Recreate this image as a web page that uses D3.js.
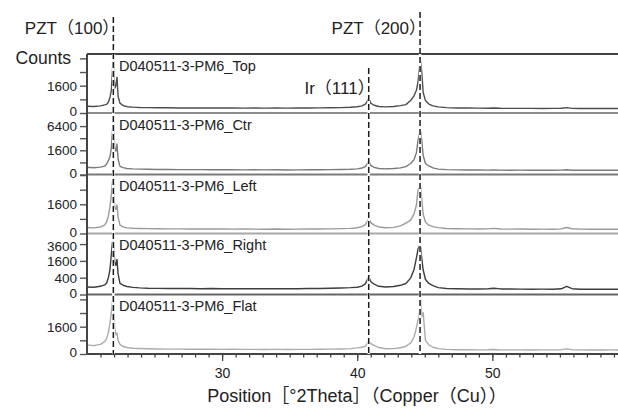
<!DOCTYPE html>
<html>
<head>
<meta charset="utf-8">
<script src="https://cdn.jsdelivr.net/npm/d3@7"></script>
<style>
	body { margin: 0; background: #fff; }
	svg { display: block; font-family: "Liberation Sans", Arial, "Noto Sans CJK JP", sans-serif; }
</style>
</head>
<body>
<svg id="chart" width="618" height="411"></svg>
<script>
// 2theta positions shared by all five scans
var positions = [
	20, 20.5, 21.0, 21.3, 21.45, 21.58, 21.7, 21.8, 21.88, 21.95,
	22.05, 22.14, 22.22, 22.3, 22.44, 22.67, 22.96, 23.4, 23.9, 24.5,
	25.2, 26, 26.8, 27.6, 28.4, 29.2, 30, 30.8, 31.6, 32.4,
	33.2, 34, 34.8, 35.6, 36.4, 37.2, 38, 38.8, 39.5, 40.0,
	40.35, 40.6, 40.72, 40.85, 41.0, 41.25, 41.6, 42.1, 42.7, 43.2,
	43.6, 43.95, 44.2, 44.38, 44.5, 44.6, 44.7, 44.78, 44.88, 45.05,
	45.3, 45.6, 46.0, 46.6, 47.4, 48.2, 49.0, 49.7, 50.1, 50.6,
	51.3, 52.1, 52.9, 53.7, 54.5, 55.1, 55.5, 55.9, 56.5, 57.3,
	58.1, 58.8, 59.3
];

var topCounts = [
	97, 90, 110, 140, 160, 250, 520, 1100, 3500, 7400,
	1300, 1600, 2760, 600, 210, 120, 85, 74, 66, 62,
	60, 58, 55, 57, 53, 55, 52, 54, 50, 53,
	51, 55, 50, 52, 54, 56, 58, 62, 70, 85,
	110, 170, 280, 450, 210, 128, 90, 80, 90, 115,
	150, 330, 620, 1100, 2100, 4200, 5600, 3400, 900, 330,
	170, 110, 80, 62, 55, 52, 50, 48, 54, 47,
	46, 45, 46, 44, 45, 48, 62, 46, 43, 44,
	42, 43, 42
];

var ctrCounts = [
	141, 125, 150, 190, 300, 520, 857, 1900, 4800, 8600,
	1800, 1500, 2540, 650, 182, 130, 100, 86, 78, 74,
	70, 68, 66, 64, 66, 62, 60, 62, 58, 60,
	58, 60, 57, 59, 61, 60, 64, 68, 76, 88,
	115, 170, 290, 467, 230, 140, 100, 88, 96, 120,
	170, 330, 600, 1300, 3200, 4400, 4960, 3000, 1000, 330,
	200, 120, 80, 64, 58, 56, 54, 52, 56, 52,
	50, 52, 49, 51, 50, 52, 62, 50, 48, 50,
	48, 50, 49
];

var leftCounts = [
	68, 60, 80, 130, 250, 560, 1346, 2800, 4800, 5820,
	1300, 1100, 1520, 500, 131, 80, 60, 52, 48, 44,
	42, 40, 40, 38, 39, 37, 38, 36, 37, 36,
	35, 37, 35, 36, 38, 37, 40, 44, 50, 62,
	90, 150, 260, 428, 220, 131, 80, 62, 70, 110,
	200, 336, 700, 1500, 3570, 3900, 4080, 2000, 700, 250,
	131, 90, 64, 48, 42, 40, 38, 40, 50, 38,
	36, 37, 35, 36, 35, 40, 68, 42, 36, 35,
	34, 36, 35
];

var rightCounts = [
	80, 75, 95, 130, 180, 400, 867, 2290, 3800, 4390,
	1500, 1200, 1740, 600, 172, 122, 90, 72, 62, 56,
	54, 52, 50, 51, 48, 50, 47, 49, 46, 48,
	47, 49, 46, 48, 50, 52, 55, 60, 66, 75,
	100, 160, 280, 450, 240, 150, 95, 80, 90, 120,
	172, 380, 867, 1900, 2900, 3370, 3100, 1800, 867, 320,
	172, 110, 67, 52, 46, 44, 42, 46, 56, 44,
	42, 41, 40, 41, 40, 46, 96, 48, 40, 39,
	38, 39, 38
];

var flatCounts = [
	180, 150, 200, 330, 509, 1000, 2035, 3600, 5800, 7170,
	1400, 800, 930, 400, 200, 120, 90, 72, 64, 58,
	55, 52, 50, 48, 50, 47, 46, 48, 45, 46,
	44, 46, 44, 45, 46, 47, 50, 54, 62, 80,
	98, 130, 220, 359, 230, 156, 90, 60, 62, 85,
	130, 250, 600, 1500, 2500, 3500, 6400, 3000, 3670, 400,
	180, 98, 62, 45, 40, 38, 37, 38, 42, 37,
	36, 37, 35, 36, 36, 40, 56, 40, 36, 35,
	35, 36, 35
];

var sampleNames = ['D040511-3-PM6_Top', 'D040511-3-PM6_Ctr', 'D040511-3-PM6_Left', 'D040511-3-PM6_Right', 'D040511-3-PM6_Flat'];
var seriesCounts = [topCounts, ctrCounts, leftCounts, rightCounts, flatCounts];
var panelMax = [7460, 10330, 6530, 5270, 7590];
var countTicks = [0, 400, 1600, 3600, 6400];
var labelledTicks = [[0, 1600, 6400], [0, 1600, 6400], [0, 1600], [0, 400, 1600, 3600], [0, 1600]];
var xDomain = [20, 59.3];
var xMajorTicks = [30, 40, 50];
var peakNames = ['PZT（100）', 'Ir（111）', 'PZT（200）'];
var peakPositions = [21.95, 40.85, 44.65];

var lineColors = ['#4d4d4d', '#7a7a7a', '#9a9a9a', '#3d3d3d', '#ababab'];
var edgeColors = ['#444', '#8c8c8c', '#7a7a7a', '#a8a8a8', '#666'];
var edges = [54, 113, 174.5, 233.5, 294.5, 354];
var left = 87, right = 618;

var svg = d3.select('#chart');

var x = d3.scaleLinear().domain(xDomain).range([left, right]);

var defs = svg.append('defs');

seriesCounts.forEach(function(counts, i){
	var y = d3.scaleSqrt()
		.domain([0, panelMax[i]])
		.range([edges[i + 1], edges[i]]);

	defs.append('clipPath')
		.attr('id', 'clip-' + i)
		.append('rect')
		.attr('x', left)
		.attr('y', edges[i])
		.attr('width', right - left)
		.attr('height', edges[i + 1] - edges[i]);

	// panel top edge
	svg.append('line')
		.attr('x1', left).attr('x2', right)
		.attr('y1', edges[i]).attr('y2', edges[i])
		.attr('stroke', edgeColors[i])
		.attr('stroke-width', 2);

	var line = d3.line()
		.x(function(d){ return x(d[0]); })
		.y(function(d){ return y(d[1]); });

	svg.append('path')
		.datum(d3.zip(positions, counts))
		.attr('clip-path', 'url(#clip-' + i + ')')
		.attr('fill', 'none')
		.attr('stroke', lineColors[i])
		.attr('stroke-width', 1.4)
		.attr('stroke-linejoin', 'round')
		.attr('d', line);

	svg.append('text')
		.attr('x', left + 32)
		.attr('y', edges[i] + 16.5)
		.attr('font-size', 14.5)
		.attr('fill', '#222')
		.text(sampleNames[i]);

	var axis = d3.axisLeft(y)
		.tickValues(countTicks.filter(function(v){ return v < panelMax[i]; }))
		.tickSize(7)
		.tickPadding(3)
		.tickFormat(function(v){
			if (labelledTicks[i].indexOf(v) < 0) return '';
			if (i === 0 && v === 6400) return 'Counts';
			return String(v);
		});

	var g = svg.append('g')
		.attr('transform', 'translate(' + left + ',0)')
		.call(axis);

	g.select('.domain').remove();
	g.selectAll('.tick line').attr('stroke', '#555').attr('stroke-width', 1.4);
	g.selectAll('.tick text')
		.attr('font-family', null)
		.attr('font-size', 13.5)
		.attr('fill', '#222');

	// zero label sits a touch above its tick, the top label a touch below
	g.selectAll('.tick text')
		.filter(function(v){ return v === 0; })
		.attr('dy', '0.2em');
	g.selectAll('.tick text')
		.filter(function(v){ return i === 3 && v === 3600; })
		.attr('dy', '0.5em');

	if (i === 0){
		g.selectAll('.tick text')
			.filter(function(v){ return v === 6400; })
			.attr('font-size', 17.5)
			.attr('x', -16);
	}
});

// x axis
var minorAxis = d3.axisBottom(x)
	.tickValues(d3.range(21, 60))
	.tickSize(3.5)
	.tickFormat('');

var gMinor = svg.append('g')
	.attr('transform', 'translate(0,' + edges[5] + ')')
	.call(minorAxis);
gMinor.select('.domain').remove();
gMinor.selectAll('.tick line').attr('stroke', '#444').attr('stroke-width', 1.3);

var majorAxis = d3.axisBottom(x)
	.tickValues(xMajorTicks)
	.tickSize(7)
	.tickPadding(7)
	.tickFormat(d3.format('d'));

var gMajor = svg.append('g')
	.attr('transform', 'translate(0,' + edges[5] + ')')
	.call(majorAxis);
gMajor.select('.domain').remove();
gMajor.selectAll('.tick line').attr('stroke', '#444').attr('stroke-width', 1.3);
gMajor.selectAll('.tick text')
	.attr('font-family', null)
	.attr('font-size', 14)
	.attr('fill', '#222');

// frame lines
svg.append('line')
	.attr('x1', left).attr('x2', right)
	.attr('y1', edges[5]).attr('y2', edges[5])
	.attr('stroke', '#444')
	.attr('stroke-width', 2);

svg.append('line')
	.attr('x1', left).attr('x2', left)
	.attr('y1', edges[0]).attr('y2', edges[5])
	.attr('stroke', '#444')
	.attr('stroke-width', 2);

// peak markers
var peakTops = [17, 68, 12];

peakPositions.forEach(function(p, i){
	svg.append('line')
		.attr('x1', x(p)).attr('x2', x(p))
		.attr('y1', Math.max(peakTops[i], edges[0])).attr('y2', edges[5])
		.attr('stroke', '#fff')
		.attr('stroke-width', 2.5);

	svg.append('line')
		.attr('x1', x(p)).attr('x2', x(p))
		.attr('y1', peakTops[i]).attr('y2', edges[5])
		.attr('stroke', '#1a1a1a')
		.attr('stroke-width', 1.5)
		.attr('stroke-dasharray', '6,3');

	svg.append('text')
		.attr('x', x(p) + 6)
		.attr('y', i === 1 ? 94 : 34)
		.attr('text-anchor', 'end')
		.attr('font-size', 17)
		.attr('fill', '#222')
		.text(peakNames[i]);
});

svg.append('text')
	.attr('x', 357)
	.attr('y', 402)
	.attr('text-anchor', 'middle')
	.attr('font-size', 18)
	.attr('fill', '#222')
	.text('Position［°2Theta］（Copper（Cu））');
</script>
</body>
</html>
